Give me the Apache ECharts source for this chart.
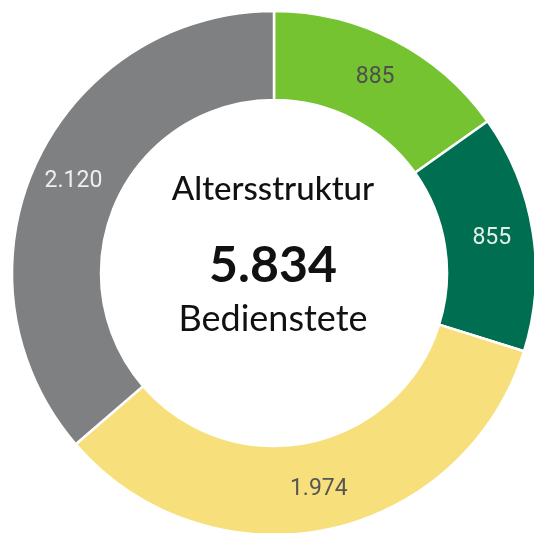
<!DOCTYPE html>
<html>
<head>
<meta charset="utf-8">
<script src="https://cdn.jsdelivr.net/npm/echarts@6/dist/echarts.min.js"></script>
<style>
html,body{margin:0;padding:0;background:#fff;}
#chart{width:534px;height:533px;}
</style>
</head>
<body>
<div id="chart"></div>
<script>
const categories = ['Gruppe 1', 'Gruppe 2', 'Gruppe 3', 'Gruppe 4'];
const values = [885, 855, 1974, 2120];
const colors = ['#76c332', '#006f51', '#f7e07c', '#7f8082'];
const labelColors = ['#4f4f4f', '#e6efe9', '#555555', '#eeeeee'];
const titleText = 'Altersstruktur';
const totalText = '5.834';
const subText = 'Bedienstete';

function fmt(n) {
  return String(n).replace(/\B(?=(\d{3})+(?!\d))/g, '.');
}

const chart = echarts.init(document.getElementById('chart'), null, {renderer: 'canvas'});
chart.setOption({
  animation: false,
  backgroundColor: '#ffffff',
  series: [{
    type: 'pie',
    center: [274, 273],
    radius: [173, 262],
    startAngle: 90,
    clockwise: true,
    avoidLabelOverlap: false,
    itemStyle: {borderColor: '#ffffff', borderWidth: 2.5},
    label: {
      show: true,
      position: 'inside',
      fontFamily: "Roboto, sans-serif",
      fontSize: 23,
      formatter: p => fmt(p.value)
    },
    labelLine: {show: false},
    emphasis: {disabled: true},
    data: categories.map((c, i) => ({
      name: c,
      value: values[i],
      itemStyle: {color: colors[i]},
      label: {color: labelColors[i]}
    }))
  }],
  graphic: [
    {type: 'text', x: 273, y: 189, style: {text: titleText, font: "500 33px Lato, sans-serif", fill: '#111', textAlign: 'center', textVerticalAlign: 'middle'}},
    {type: 'text', x: 273, y: 266, style: {text: totalText, font: "bold 50px Lato, sans-serif", fill: '#111', textAlign: 'center', textVerticalAlign: 'middle'}},
    {type: 'text', x: 273, y: 319, style: {text: subText, font: "36px Lato, sans-serif", fill: '#111', textAlign: 'center', textVerticalAlign: 'middle'}}
  ]
});
</script>
</body>
</html>
